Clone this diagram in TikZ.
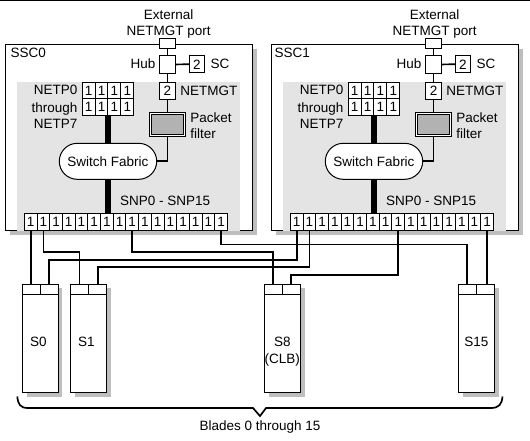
\documentclass[tikz,border=0pt]{standalone}
\usepackage{fontspec}
\setmainfont{Liberation Sans}
\usetikzlibrary{shapes.misc}
\definecolor{panelgray}{HTML}{E4E4E4}
\definecolor{shadowgray}{HTML}{BEBEBE}
\definecolor{filtergray}{HTML}{B2B2B2}
\tikzset{
  lbl/.style={inner sep=0, outer sep=0, text height=9.7, text depth=0, font=\fontsize{13.5}{16}\selectfont},
  boxnode/.style={draw=black, fill=white, line width=1, inner sep=0, outer sep=0, font=\fontsize{13.5}{16}\selectfont, text height=9.7, text depth=0},
  cell/.style={boxnode, minimum width=12.7, minimum height=16.7},
  netcell/.style={boxnode, minimum width=12.85, minimum height=16.5},
  twocell/.style={boxnode, minimum width=15.4, minimum height=17},
  portbox/.style={boxnode, minimum width=15.4, minimum height=6.3},
  bladeport/.style={boxnode, minimum width=18, minimum height=10},
  bladebody/.style={boxnode, minimum width=36, minimum height=98},
  sscbox/.style={boxnode, minimum width=247, minimum height=186},
  panel/.style={fill=panelgray, inner sep=0, outer sep=0, minimum width=223, minimum height=148.2},
  fabric/.style={boxnode, rounded rectangle, minimum width=97.4, minimum height=36},
  filterbox/.style={draw=black, fill=filtergray, line width=1, double=white, double distance=1.2, inner sep=0, outer sep=0, minimum width=33.3, minimum height=22.5},
  wire/.style={line width=1.7},
  bar/.style={line width=5.5},
}
\begin{document}
\begin{tikzpicture}[x=1pt,y=1pt,yscale=-1,xscale=1]
\useasboundingbox (0,0) rectangle (530,440);
\coordinate (topl) at (0,0.5);
\coordinate (topr) at (530,0.5);
\draw [line width=1] (topl) -- (topr);
\fill [shadowgray] (10,49) rectangle (257,235);
\fill [shadowgray] (276,49) rectangle (523,235);
\fill [shadowgray] (26.7,288) rectangle (62.3,397.3);
\fill [shadowgray] (74.7,288) rectangle (110.7,397.3);
\fill [shadowgray] (268.7,288) rectangle (304.7,397.3);
\fill [shadowgray] (462.7,288) rectangle (498.7,397.3);
\node [sscbox] (ssc0) at (128.8,137.5) {};
\node [sscbox] (ssc1) at (394.8,137.5) {};
\node [panel] (panel0) at (128.2,156.4) {};
\node [panel] (panel1) at (394.2,156.4) {};
\node [lbl, anchor=west] (ssc0lbl) at (10.7,52.3) {SSC0};
\node [lbl, anchor=west] (ssc1lbl) at (274.5,52.3) {SSC1};
\node [lbl] (ext0) at (168.7,14.7) {External};
\node [lbl] (ext1) at (434.7,14.7) {External};
\node [lbl] (nmp0) at (168.7,31) {NETMGT port};
\node [lbl] (nmp1) at (434.7,31) {NETMGT port};
\node [portbox] (port0) at (167.5,43.8) {};
\node [portbox] (port1) at (433.5,43.8) {};
\node [boxnode, minimum width=16, minimum height=17.6] (hub0) at (167.5,64.5) {};
\node [boxnode, minimum width=16, minimum height=17.6] (hub1) at (433.5,64.5) {};
\node [lbl, anchor=east] (hub0lbl) at (155.3,63.3) {Hub};
\node [lbl, anchor=east] (hub1lbl) at (421.3,63.3) {Hub};
\node [boxnode, minimum width=15, minimum height=17] (sc0) at (196.8,64.2) {2};
\node [boxnode, minimum width=15, minimum height=17] (sc1) at (462.8,64.2) {2};
\node [lbl, anchor=west] (sc0lbl) at (210.7,63.3) {SC};
\node [lbl, anchor=west] (sc1lbl) at (476.7,63.3) {SC};
\node [twocell] (mgt0) at (167.5,91) {2};
\node [twocell] (mgt1) at (433.5,91) {2};
\node [lbl, anchor=west] (mgt0lbl) at (180.3,90.7) {NETMGT};
\node [lbl, anchor=west] (mgt1lbl) at (446.3,90.7) {NETMGT};
\node [filterbox] (pf0) at (167.5,124.6) {};
\node [filterbox] (pf1) at (433.5,124.6) {};
\node [lbl, anchor=west] (pf0a) at (190.3,117.3) {Packet};
\node [lbl, anchor=west] (pf1a) at (456.3,117.3) {Packet};
\node [lbl, anchor=west] (pf0b) at (190.3,133.3) {filter};
\node [lbl, anchor=west] (pf1b) at (456.3,133.3) {filter};
\node [lbl, anchor=east] (np0a) at (77.3,89.3) {NETP0};
\node [lbl, anchor=east] (np0b) at (77.3,107.7) {through};
\node [lbl, anchor=east] (np0c) at (77.3,123.3) {NETP7};
\node [lbl, anchor=east] (np1a) at (343.3,89.3) {NETP0};
\node [lbl, anchor=east] (np1b) at (343.3,107.7) {through};
\node [lbl, anchor=east] (np1c) at (343.3,123.3) {NETP7};
\node [netcell] (t0a) at (88.7,90.5) {1};
\node [netcell] (t0b) at (101.6,90.5) {1};
\node [netcell] (t0c) at (114.4,90.5) {1};
\node [netcell] (t0d) at (127.3,90.5) {1};
\node [netcell] (t0e) at (88.7,107) {1};
\node [netcell] (t0f) at (101.6,107) {1};
\node [netcell] (t0g) at (114.4,107) {1};
\node [netcell] (t0h) at (127.3,107) {1};
\node [netcell] (t1a) at (354.7,90.5) {1};
\node [netcell] (t1b) at (367.6,90.5) {1};
\node [netcell] (t1c) at (380.4,90.5) {1};
\node [netcell] (t1d) at (393.3,90.5) {1};
\node [netcell] (t1e) at (354.7,107) {1};
\node [netcell] (t1f) at (367.6,107) {1};
\node [netcell] (t1g) at (380.4,107) {1};
\node [netcell] (t1h) at (393.3,107) {1};
\node [fabric] (sf0) at (108,161.3) {Switch Fabric};
\node [fabric] (sf1) at (374,161.3) {Switch Fabric};
\node [lbl, anchor=west] (snp0) at (120,201) {SNP0 - SNP15};
\node [lbl, anchor=west] (snp1) at (386,201) {SNP0 - SNP15};
\node [cell] (s0n0) at (30.65,221.7) {1};
\node [cell] (s0n1) at (43.35,221.7) {1};
\node [cell] (s0n2) at (56.05,221.7) {1};
\node [cell] (s0n3) at (68.75,221.7) {1};
\node [cell] (s0n4) at (81.45,221.7) {1};
\node [cell] (s0n5) at (94.15,221.7) {1};
\node [cell] (s0n6) at (106.85,221.7) {1};
\node [cell] (s0n7) at (119.55,221.7) {1};
\node [cell] (s0n8) at (132.25,221.7) {1};
\node [cell] (s0n9) at (144.95,221.7) {1};
\node [cell] (s0n10) at (157.65,221.7) {1};
\node [cell] (s0n11) at (170.35,221.7) {1};
\node [cell] (s0n12) at (183.05,221.7) {1};
\node [cell] (s0n13) at (195.75,221.7) {1};
\node [cell] (s0n14) at (208.45,221.7) {1};
\node [cell] (s0n15) at (221.15,221.7) {1};
\node [cell] (s1n0) at (296.65,221.7) {1};
\node [cell] (s1n1) at (309.35,221.7) {1};
\node [cell] (s1n2) at (322.05,221.7) {1};
\node [cell] (s1n3) at (334.75,221.7) {1};
\node [cell] (s1n4) at (347.45,221.7) {1};
\node [cell] (s1n5) at (360.15,221.7) {1};
\node [cell] (s1n6) at (372.85,221.7) {1};
\node [cell] (s1n7) at (385.55,221.7) {1};
\node [cell] (s1n8) at (398.25,221.7) {1};
\node [cell] (s1n9) at (410.95,221.7) {1};
\node [cell] (s1n10) at (423.65,221.7) {1};
\node [cell] (s1n11) at (436.35,221.7) {1};
\node [cell] (s1n12) at (449.05,221.7) {1};
\node [cell] (s1n13) at (461.75,221.7) {1};
\node [cell] (s1n14) at (474.45,221.7) {1};
\node [cell] (s1n15) at (487.15,221.7) {1};
\node [bladeport] (b0a) at (31.3,289.3) {};
\node [bladeport] (b0b) at (49,289.3) {};
\node [bladeport] (b1a) at (79.5,289.3) {};
\node [bladeport] (b1b) at (97.7,289.3) {};
\node [bladeport] (b8a) at (273.3,289.3) {};
\node [bladeport] (b8b) at (291.3,289.3) {};
\node [bladeport] (b15a) at (467.3,289.3) {};
\node [bladeport] (b15b) at (485.3,289.3) {};
\node [bladebody] (b0) at (40.1,343.3) {};
\node [bladebody] (b1) at (88.6,343.3) {};
\node [bladebody] (b8) at (282.3,343.3) {};
\node [bladebody] (b15) at (476.3,343.3) {};
\node [lbl] (b0lbl) at (38.3,342) {S0};
\node [lbl] (b1lbl) at (86.3,342) {S1};
\node [lbl] (b8lbl) at (282.3,342) {S8};
\node [lbl] (b8clb) at (282.3,359) {(CLB)};
\node [lbl] (b15lbl) at (476.3,342) {S15};
\draw [wire] (port0) -- (hub0);
\draw [wire] (hub0) -- (sc0);
\draw [wire] (hub0) -- (mgt0);
\draw [wire] (mgt0) -- (pf0);
\draw [wire] (pf0.south) |- (sf0.east);
\draw [wire] (port1) -- (hub1);
\draw [wire] (hub1) -- (sc1);
\draw [wire] (hub1) -- (mgt1);
\draw [wire] (mgt1) -- (pf1);
\draw [wire] (pf1.south) |- (sf1.east);
\draw [bar] (sf0.north) -- (sf0.north |- t0f.south);
\draw [bar] (sf0.south) -- (sf0.south |- s0n6.north);
\draw [bar] (sf1.north) -- (sf1.north |- t1f.south);
\draw [bar] (sf1.south) -- (sf1.south |- s1n6.north);
\draw [wire] (s0n0.south) -- (s0n0.south |- b0a.north);
\draw [wire] (s0n1.south) -- ++(0,21.7) -| (b1a.north);
\draw [wire] (s0n8.south) -- ++(0,21.7) -| (b8a.north);
\draw [wire] (s0n15.south) -- ++(0,14.3) -| (b15a.north);
\draw [wire] (s1n0.south) -- ++(0,30) -| (b0b.north);
\draw [wire] (s1n1.south) -- ++(0,36.7) -| (b1b.north);
\draw [wire] (s1n8.south) -- ++(0,45) -| (b8b.north);
\draw [wire] (s1n15.south) -- (s1n15.south |- b15b.north);
\node [lbl] (blades) at (260,425.7) {Blades 0 through 15};
\coordinate (bracel) at (17.3,396.5);
\coordinate (bracer) at (502.5,396.5);
\coordinate (bracetip) at (260,416);
\draw [wire] (bracel) .. controls (18,404) and (20,408) .. (28,408) -- (253,408) -- (bracetip) -- (266,408) -- (491,408) .. controls (499,408) and (502,404) .. (bracer);
\end{tikzpicture}
\end{document}
